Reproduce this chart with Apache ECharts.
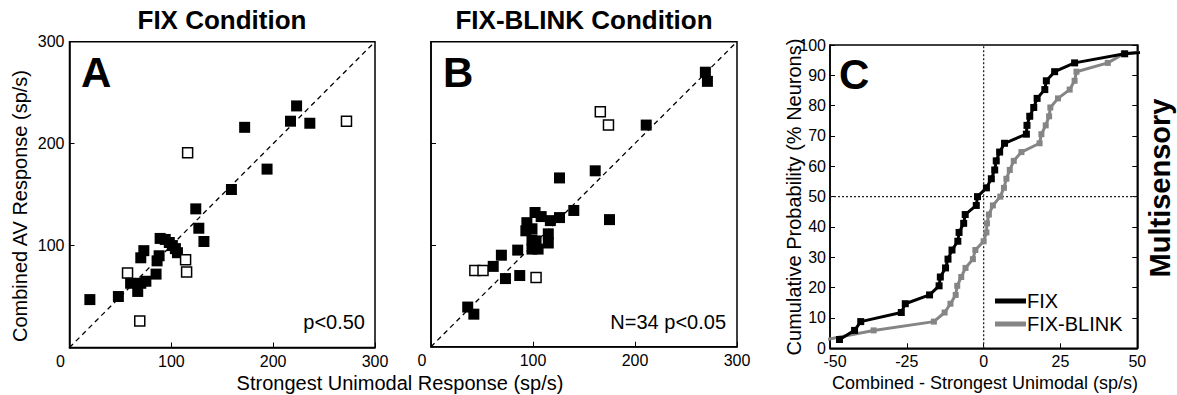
<!DOCTYPE html>
<html>
<head>
<meta charset="utf-8">
<script src="https://cdn.jsdelivr.net/npm/echarts@6/dist/echarts.min.js"></script>
<style>
html,body{margin:0;padding:0;background:#fff;}
#chart{width:1177px;height:395px;}
</style>
</head>
<body>
<div id="chart"></div>
<script>
// ---- Data ----
// Panel A: FIX condition, [strongest unimodal, combined AV]
const fixFilled = [[20,47],[48,50],[60,63],[67,55],[70,63],[75,65],[70,88],[73,95],[85,72],[86,85],[88,90],[89,107],[94,106],[98,103],[101,100],[104,97],[106,93],[124,136],[127,117],[132,104],[159,155],[172,216],[194,175],[217,222],[223,237],[236,220]];
const fixOpen = [[57,73],[69,26],[116,191],[114,86],[115,74],[272,222]];
// Panel B: FIX-BLINK condition
const blinkFilled = [[36,39],[42,32],[61,79],[69,90],[73,67],[87,70],[85,95],[94,122],[93,114],[99,116],[102,132],[108,128],[99,96],[105,96],[99,105],[103,104],[115,111],[115,102],[117,124],[126,127],[126,166],[140,134],[161,173],[175,125],[211,218],[269,270],[271,261]];
const blinkOpen = [[43,75],[51,75],[103,68],[166,231],[174,218]];
// Panel C: cumulative distributions
const cdfFixX = [-46.9,-42,-40,-26.8,-25.5,-17.6,-14.5,-14.1,-12.4,-11.6,-10.3,-8.4,-8,-6.5,-6,-2.4,-2,0.9,2.5,3.6,4.1,5.2,6.8,13.9,14.1,15,16.3,17.4,19.9,20.4,23.1,29.6,45.9,80];
const cdfFixY = [2.9,5.9,8.8,11.8,14.7,17.6,20.6,23.5,26.5,29.4,32.4,35.3,38.2,41.2,44.1,47.1,50,52.9,55.9,58.8,61.8,64.7,67.6,70.6,73.5,76.5,79.4,82.4,85.3,88.2,91.2,94.1,97.1,100];
const cdfBlinkX = [-51,-35.8,-16.2,-12.7,-10.8,-9.1,-8.6,-7.3,-5.9,-3.5,-2.7,0,0.9,1.1,1.7,3.0,5.4,6.6,7.4,8.5,9.8,12.3,18.2,18.8,20.2,21.3,21.7,24.2,28,29.6,30.2,40.4,45.6,78];
const cdfBlinkY = [2.9,5.9,8.8,11.8,14.7,17.6,20.6,23.5,26.5,29.4,32.4,35.3,38.2,41.2,44.1,47.1,50,52.9,55.9,58.8,61.8,64.7,67.6,70.6,73.5,76.5,79.4,82.4,85.3,88.2,91.2,94.1,97.1,100];
const scatterTicks = [0,100,200,300];
const cdfXTicks = [-50,-25,0,25,50];
const cdfYTicks = [0,10,20,30,40,50,60,70,80,90,100];
const diagLine = [[0,0],[300,300]];
const vRef = [[0,0],[0,100]];
const hRef = [[-50,50],[50,50]];

const FONT = 'Liberation Sans, Arial, Helvetica, sans-serif';
const chart = echarts.init(document.getElementById('chart'), null, {renderer:'svg'});

function valAxis(grid, min, max, interval, opts) {
  return Object.assign({
    gridIndex: grid, type: 'value', min: min, max: max, interval: interval,
    axisLine: {show: true, onZero: false, lineStyle: {color: '#000', width: 1.5}},
    axisTick: {show: true, inside: true, length: 5, lineStyle: {color: '#000', width: 1}},
    axisLabel: {color: '#000', fontSize: 16, fontFamily: FONT, margin: 6},
    splitLine: {show: false}
  }, opts || {});
}
const zeroShift = {
  formatter: v => v === 0 ? '{z|0}' : String(v),
  rich: {z: {padding: [0, 18, 0, 0], fontSize: 16, color: '#000', fontFamily: FONT}}
};

const option = {
  animation: false,
  backgroundColor: '#fff',
  grid: [
    {left: 69.5, top: 41.7, width: 305.5, height: 305.8, show: true, borderColor: '#000', borderWidth: 1.5, backgroundColor: 'transparent'},
    {left: 431, top: 41.7, width: 306, height: 305, show: true, borderColor: '#000', borderWidth: 1.5, backgroundColor: 'transparent'},
    {left: 830, top: 45, width: 307.3, height: 303.3, show: true, borderColor: '#000', borderWidth: 1.5, backgroundColor: 'transparent'}
  ],
  xAxis: [
    valAxis(0, scatterTicks[0], scatterTicks[3], 100, {axisLabel: Object.assign({color:'#000', fontSize:16, fontFamily:FONT, margin:6}, zeroShift)}),
    valAxis(1, scatterTicks[0], scatterTicks[3], 100, {axisLabel: Object.assign({color:'#000', fontSize:16, fontFamily:FONT, margin:6}, zeroShift)}),
    valAxis(2, cdfXTicks[0], cdfXTicks[4], 25, {axisLabel: {color:'#000', fontSize:16, fontFamily:FONT, margin:5,
      formatter: v => v === -50 ? '{m|-50}' : String(v),
      rich: {m: {padding: [0, 0, 0, 10], fontSize: 16, color: '#000', fontFamily: FONT}}}})
  ],
  yAxis: [
    valAxis(0, scatterTicks[0], scatterTicks[3], 100, {axisLabel: {color:'#000', fontSize:16, fontFamily:FONT, margin:5, formatter: v => v === 0 ? '' : String(v)}}),
    valAxis(1, scatterTicks[0], scatterTicks[3], 100, {axisLabel: {show: false}}),
    valAxis(2, cdfYTicks[0], cdfYTicks[10], 10, {axisLabel: {color:'#000', fontSize:16, fontFamily:FONT, margin:4}}),
    valAxis(2, cdfYTicks[0], cdfYTicks[10], 10, {position: 'right', axisLabel: {show: false}})
  ],
  legend: {
    data: ['FIX', 'FIX-BLINK'],
    orient: 'vertical', left: 990, top: 286,
    icon: 'rect', itemWidth: 31, itemHeight: 5, itemGap: 3,
    textStyle: {color: '#000', fontSize: 20, fontFamily: FONT, padding: [0,0,0,-4]},
    backgroundColor: 'transparent'
  },
  series: [
    {type: 'line', xAxisIndex: 0, yAxisIndex: 0, data: diagLine, symbol: 'none', silent: true,
      lineStyle: {color: '#000', width: 1.3, type: [5, 4]}, z: 1},
    {type: 'scatter', xAxisIndex: 0, yAxisIndex: 0, data: fixFilled, symbol: 'rect', symbolSize: 11,
      itemStyle: {color: '#000', opacity: 1}, z: 3},
    {type: 'scatter', xAxisIndex: 0, yAxisIndex: 0, data: fixOpen, symbol: 'rect', symbolSize: 10,
      itemStyle: {color: '#fff', borderColor: '#000', borderWidth: 1.5, opacity: 1}, z: 3},
    {type: 'line', xAxisIndex: 1, yAxisIndex: 1, data: diagLine, symbol: 'none', silent: true,
      lineStyle: {color: '#000', width: 1.3, type: [5, 4]}, z: 1},
    {type: 'scatter', xAxisIndex: 1, yAxisIndex: 1, data: blinkFilled, symbol: 'rect', symbolSize: 11,
      itemStyle: {color: '#000', opacity: 1}, z: 3},
    {type: 'scatter', xAxisIndex: 1, yAxisIndex: 1, data: blinkOpen, symbol: 'rect', symbolSize: 10,
      itemStyle: {color: '#fff', borderColor: '#000', borderWidth: 1.5, opacity: 1}, z: 3},
    {type: 'line', xAxisIndex: 2, yAxisIndex: 2, data: vRef, symbol: 'none', silent: true,
      lineStyle: {color: '#222', width: 1.3, type: [2, 2]}, z: 1},
    {type: 'line', xAxisIndex: 2, yAxisIndex: 2, data: hRef, symbol: 'none', silent: true,
      lineStyle: {color: '#222', width: 1.3, type: [2, 2]}, z: 1},
    {name: 'FIX-BLINK', type: 'line', xAxisIndex: 2, yAxisIndex: 2, clip: true,
      data: cdfBlinkX.map((x, i) => [x, cdfBlinkY[i]]),
      symbol: 'rect', symbolSize: 6, showAllSymbol: true,
      itemStyle: {color: '#858585'}, lineStyle: {color: '#858585', width: 3}, z: 2},
    {name: 'FIX', type: 'line', xAxisIndex: 2, yAxisIndex: 2, clip: true,
      data: cdfFixX.map((x, i) => [x, cdfFixY[i]]),
      symbol: 'rect', symbolSize: 7, showAllSymbol: true,
      itemStyle: {color: '#000'}, lineStyle: {color: '#000', width: 3}, z: 3}
  ],
  graphic: [
    {type: 'text', x: 222, y: 20, style: {text: 'FIX Condition', fill: '#000', font: 'bold 26px ' + FONT, align: 'center', verticalAlign: 'middle'}},
    {type: 'text', x: 584, y: 20, style: {text: 'FIX-BLINK Condition', fill: '#000', font: 'bold 26px ' + FONT, align: 'center', verticalAlign: 'middle'}},
    {type: 'text', x: 81, y: 72, style: {text: 'A', fill: '#000', font: 'bold 42px ' + FONT, align: 'left', verticalAlign: 'middle'}},
    {type: 'text', x: 443, y: 72, style: {text: 'B', fill: '#000', font: 'bold 42px ' + FONT, align: 'left', verticalAlign: 'middle'}},
    {type: 'text', x: 839, y: 74, style: {text: 'C', fill: '#000', font: 'bold 42px ' + FONT, align: 'left', verticalAlign: 'middle'}},
    {type: 'text', x: 365, y: 322, style: {text: 'p<0.50', fill: '#000', font: '20px ' + FONT, align: 'right', verticalAlign: 'middle'}},
    {type: 'text', x: 726, y: 322, style: {text: 'N=34 p<0.05', fill: '#000', font: '20px ' + FONT, align: 'right', verticalAlign: 'middle'}},
    {type: 'text', x: 400, y: 383, style: {text: 'Strongest Unimodal Response (sp/s)', fill: '#000', font: '20px ' + FONT, align: 'center', verticalAlign: 'middle'}},
    {type: 'text', x: 20, y: 206, rotation: Math.PI / 2, style: {text: 'Combined AV Response (sp/s)', fill: '#000', font: '20px ' + FONT, align: 'center', verticalAlign: 'middle'}},
    {type: 'text', x: 985, y: 383, style: {text: 'Combined - Strongest Unimodal (sp/s)', fill: '#000', font: '18px ' + FONT, align: 'center', verticalAlign: 'middle'}},
    {type: 'text', x: 794, y: 197, rotation: Math.PI / 2, style: {text: 'Cumulative Probability (% Neurons)', fill: '#000', font: '20px ' + FONT, align: 'center', verticalAlign: 'middle'}},
    {type: 'text', x: 1160, y: 188, rotation: Math.PI / 2, style: {text: 'Multisensory', fill: '#000', font: 'bold 29px ' + FONT, align: 'center', verticalAlign: 'middle'}}
  ]
};
chart.setOption(option);
</script>
</body>
</html>
